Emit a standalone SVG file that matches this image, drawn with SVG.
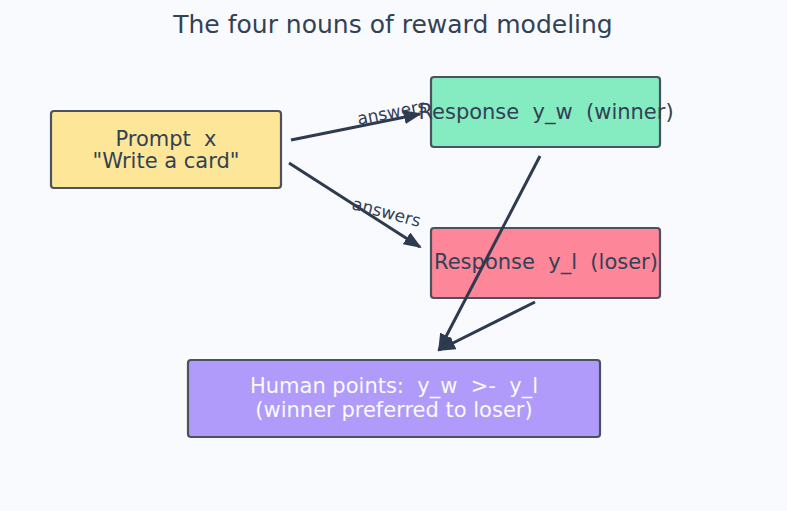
<svg xmlns="http://www.w3.org/2000/svg" width="787" height="511" viewBox="0 0 787 511">
<defs>
<marker id="ah" markerWidth="18" markerHeight="14" refX="16" refY="7" orient="auto" markerUnits="userSpaceOnUse" viewBox="0 0 18 14">
<path d="M0,0 L18,7 L0,14 Z" fill="#2d3a4f"/>
</marker>
</defs>
<style>
text{font-family:"DejaVu Sans",sans-serif;white-space:pre;}
.box{stroke:#4a5260;stroke-width:2.2;}
.t{font-size:21px;fill:#334155;text-anchor:middle;}
.w{fill:#f8fafc;}
.lbl{font-size:17px;fill:#334155;text-anchor:middle;}
.edge{stroke:#2d3a4f;stroke-width:3;fill:none;marker-end:url(#ah);}
</style>
<rect width="787" height="511" fill="#f9fafd"/>
<text x="393" y="33" text-anchor="middle" style="font-size:25px;fill:#334155">The four nouns of reward modeling</text>
<g id="prompt">
<rect class="box" x="51" y="111" width="230" height="77" rx="3" fill="#fde698"/>
<text class="t" x="166" y="146" xml:space="preserve">Prompt  x</text>
<text class="t" x="166" y="168">"Write a card"</text>
</g>
<g id="winner">
<rect class="box" x="431" y="77" width="229" height="70" rx="3" fill="#85ebc1"/>
<text class="t" x="546" y="119" xml:space="preserve">Response  y_w  (winner)</text>
</g>
<g id="loser">
<rect class="box" x="431" y="228" width="229" height="70" rx="3" fill="#fd8699"/>
<text class="t" x="546" y="269" xml:space="preserve">Response  y_l  (loser)</text>
</g>
<g id="human">
<rect class="box" x="188" y="360" width="412" height="77" rx="3" fill="#b09bfa"/>
<text class="t w" x="394" y="393" xml:space="preserve">Human points:  y_w  &gt;-  y_l</text>
<text class="t w" x="394" y="417">(winner preferred to loser)</text>
</g>
<g id="connectors">
<line class="edge" x1="291" y1="140" x2="420" y2="114"/>
<line class="edge" x1="289" y1="163" x2="420" y2="247"/>
<line class="edge" x1="540" y1="156" x2="439" y2="350"/>
<line class="edge" x1="535" y1="302" x2="439" y2="350"/>
<text class="lbl" transform="translate(393,118) rotate(-11)">answers</text>
<text class="lbl" transform="translate(385,218) rotate(15)">answers</text>
</g>
</svg>
